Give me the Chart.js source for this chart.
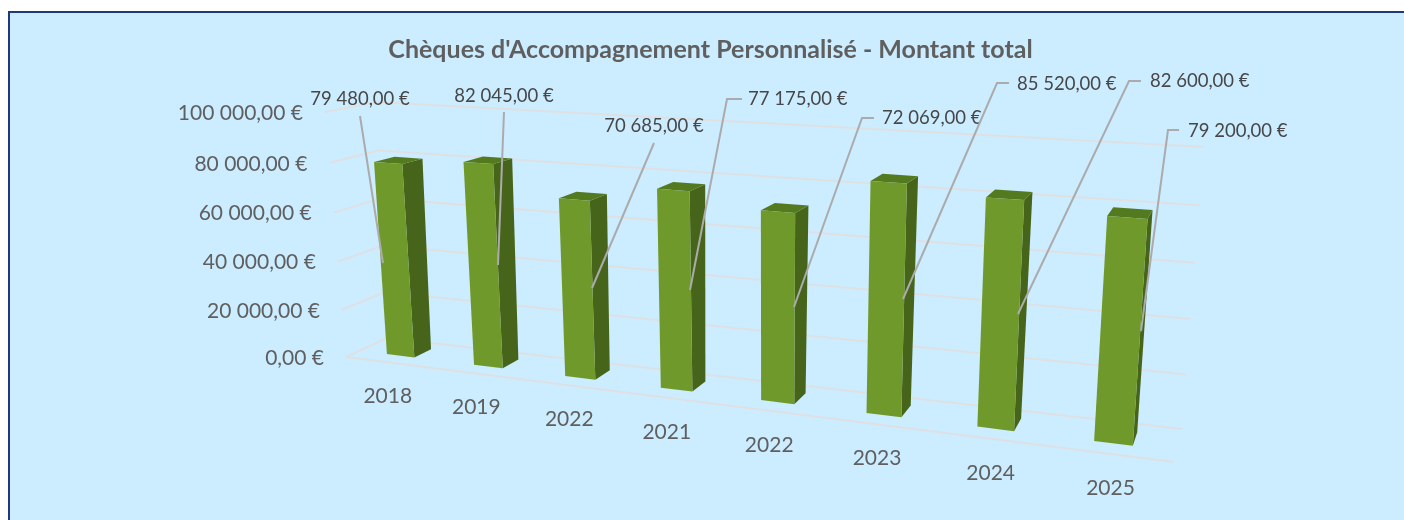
<!DOCTYPE html>
<html lang="fr">
<head>
<meta charset="utf-8">
<title>Chèques d'Accompagnement Personnalisé</title>
<script src="https://cdn.jsdelivr.net/npm/chart.js@4/dist/chart.umd.js"></script>
<style>
html,body{margin:0;padding:0;background:#fff;width:1404px;height:520px;overflow:hidden}
#panel{position:absolute;left:8px;top:11px;width:1396px;height:509px;background:#CCECFF;border-left:2px solid #1F3A7A;border-top:2px solid #1F3A7A;box-sizing:border-box}
canvas{position:absolute;left:0;top:0}
</style>
</head>
<body>
<div id="panel"></div>
<canvas id="c" width="1404" height="520"></canvas>
<script>
// ---------- data ----------
const categories = ['2018','2019','2022','2021','2022','2023','2024','2025'];
const amounts = [79480, 82045, 70685, 77175, 72069, 85520, 82600, 79200];
const yTickStep = 20000;
const yMax = 100000;
const titleText = "Chèques d'Accompagnement Personnalisé - Montant total";

// ---------- layout of the callouts (label position, elbow, anchor on the bar) ----------
const calloutAlign = ['center','center','center','left','left','left','left','left'];
const calloutLabel = [[360,99],[504,96],[654,126],[748,99],[882,118],[1017,84],[1150,81],[1188,131]];
const calloutElbow = [null,null,null,[[742,99],[727,99]],[[874,118],[862,118]],[[1009,83],[997,83]],[[1141,81],[1129,81]],[[1179,130],[1168,130]]];
const calloutStart = [[360,116],[504,112],[654,143],null,null,null,null,null];
const calloutEnd = [[383,263],[498,265],[592,288],[690,290],[794,307],[903,299],[1018,314],[1141,331]];

// ---------- 3D projection of the plot box ----------
const frontQuad = [[346,357],[1174,462],[1195,165],[325,112]];
const backQuad  = [[387,338],[1182,429],[1204,147],[377,102]];
const barDepth = [0.33, 0.75];
const barShiftU = -0.002;

function homography(q){
  const [p0,p1,p2,p3] = q;
  const dx1=p1[0]-p2[0], dx2=p3[0]-p2[0], sx=p0[0]-p1[0]+p2[0]-p3[0];
  const dy1=p1[1]-p2[1], dy2=p3[1]-p2[1], sy=p0[1]-p1[1]+p2[1]-p3[1];
  const d=dx1*dy2-dx2*dy1;
  const g=(sx*dy2-dx2*sy)/d, h=(dx1*sy-sx*dy1)/d;
  const a=p1[0]-p0[0]+g*p1[0], b=p3[0]-p0[0]+h*p3[0], c=p0[0];
  const e=p1[1]-p0[1]+g*p1[1], f=p3[1]-p0[1]+h*p3[1], i=p0[1];
  return (u,v)=>{const w=g*u+h*v+1;return [(a*u+b*v+c)/w,(e*u+f*v+i)/w];};
}
const frontH = homography(frontQuad), backH = homography(backQuad);
function project3(u,v,z){
  const a=frontH(u,v), b=backH(u,v);
  return [a[0]+(b[0]-a[0])*z, a[1]+(b[1]-a[1])*z];
}
let area = null;
const uOf = px => (px-area.left)/(area.right-area.left);
const vOf = py => (area.bottom-py)/(area.bottom-area.top);

function poly(ctx,pts,fill){
  ctx.beginPath();
  pts.forEach((p,i)=> i?ctx.lineTo(p[0],p[1]):ctx.moveTo(p[0],p[1]));
  ctx.closePath();
  ctx.fillStyle=fill; ctx.fill();
}

// bars keep the geometry Chart.js computed; only the drawing is projected
Chart.BarElement.prototype.draw = function(ctx){
  const {x,y,base,width} = this.getProps(['x','y','base','width'],true);
  const u0=uOf(x-width/2)+barShiftU, u1=uOf(x+width/2)+barShiftU, v0=vOf(base), v1=vOf(y);
  const [z0,z1]=barDepth;
  const fbl=project3(u0,v0,z0), fbr=project3(u1,v0,z0), ftl=project3(u0,v1,z0), ftr=project3(u1,v1,z0);
  const bbr=project3(u1,v0,z1), btl=project3(u0,v1,z1), btr=project3(u1,v1,z1);
  ctx.save();
  poly(ctx,[fbr,bbr,btr,ftr],'#47651A');
  poly(ctx,[ftl,ftr,btr,btl],'#547A20');
  poly(ctx,[fbl,fbr,ftr,ftl],'#70992B');
  ctx.restore();
};

const box3d = {
  id:'box3d',
  beforeDraw(chart){ area = chart.chartArea; },
  beforeDatasetsDraw(chart){
    const ctx=chart.ctx, ys=chart.scales.y;
    ctx.save();
    ctx.strokeStyle='#DEE1E3'; ctx.lineWidth=2;
    ys.ticks.forEach(t=>{
      const v=vOf(ys.getPixelForValue(t.value));
      const a=project3(0,v,0), b=project3(0,v,1), c=project3(1,v,1);
      ctx.beginPath(); ctx.moveTo(a[0],a[1]); ctx.lineTo(b[0],b[1]); ctx.lineTo(c[0],c[1]); ctx.stroke();
    });
    const f0=project3(0,0,0), f1=project3(1,0,0);
    ctx.beginPath(); ctx.moveTo(f0[0],f0[1]); ctx.lineTo(f1[0],f1[1]); ctx.stroke();
    ctx.restore();
  },
  afterDatasetsDraw(chart){
    const ctx=chart.ctx, ys=chart.scales.y, xs=chart.scales.x;
    ctx.save();
    ctx.textBaseline='middle';
    // value axis labels
    ctx.font='21px Lato'; ctx.fillStyle='#5F5F5F'; ctx.textAlign='right';
    ys.ticks.forEach(t=>{
      const p=project3(0,vOf(ys.getPixelForValue(t.value)),0);
      ctx.fillText(t.label,p[0]-22,p[1]+1);
    });
    // category labels
    ctx.textAlign='center';
    xs.ticks.forEach((t,i)=>{
      const p=project3(uOf(xs.getPixelForValue(i)),0,0);
      ctx.fillText(categories[i],p[0]-1,p[1]+34);
    });
    // callouts
    ctx.strokeStyle='#ABABAB'; ctx.lineWidth=2;
    amounts.forEach((val,i)=>{
      const pts=(calloutElbow[i]||[calloutStart[i]]).concat([calloutEnd[i]]);
      ctx.beginPath();
      pts.forEach((p,k)=> k?ctx.lineTo(p[0],p[1]):ctx.moveTo(p[0],p[1]));
      ctx.stroke();
      ctx.font='18.5px Lato'; ctx.fillStyle='#474747'; ctx.textAlign=calloutAlign[i];
      ctx.fillText(euro(val),calloutLabel[i][0],calloutLabel[i][1]);
    });
    // title
    ctx.font='bold 25px Lato'; ctx.fillStyle='#5F5F5F'; ctx.textAlign='center';
    ctx.fillText(titleText,710.5,50);
    ctx.restore();
  }
};

function euro(v){
  const [i,d]=Number(v).toFixed(2).split('.');
  return i.replace(/\B(?=(\d{3})+(?!\d))/g,' ')+','+d+' €';
}

new Chart(document.getElementById('c'),{
  type:'bar',
  data:{labels:categories,datasets:[{label:'Montant total',data:amounts,barPercentage:0.32,categoryPercentage:1,clip:false,backgroundColor:'#70992B'}]},
  options:{
    responsive:false,animation:false,
    layout:{padding:{left:345,right:231,top:112,bottom:120}},
    plugins:{legend:{display:false},title:{display:false},tooltip:{enabled:false}},
    scales:{
      x:{grid:{display:false},border:{display:false},ticks:{display:false}},
      y:{min:0,max:yMax,grid:{display:false},border:{display:false},ticks:{display:false,stepSize:yTickStep,callback:euro}}
    }
  },
  plugins:[box3d]
});
</script>
</body>
</html>
